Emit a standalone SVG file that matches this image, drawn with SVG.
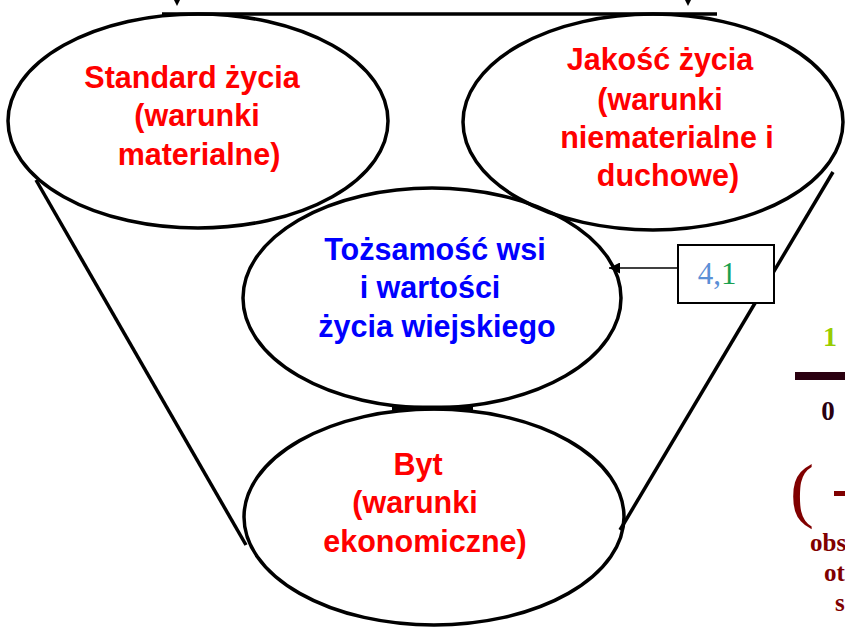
<svg xmlns="http://www.w3.org/2000/svg" width="845" height="629" viewBox="0 0 845 629">
<defs>
<style>
.ell{fill:none;stroke:#000;stroke-width:3.5}
.red{fill:#ff0000;font-family:"Liberation Sans",Arial,sans-serif;font-size:30.5px;font-weight:bold;text-anchor:middle}
.blue{fill:#0000ff;font-family:"Liberation Sans",Arial,sans-serif;font-size:30.5px;font-weight:bold;text-anchor:middle}
.ser{font-family:"Liberation Serif","Times New Roman",serif;font-weight:bold}
.dk{fill:#800000}
</style>
<marker id="ah" viewBox="0 0 10 10" refX="10" refY="5" markerWidth="13" markerHeight="11" markerUnits="userSpaceOnUse" orient="auto">
<path d="M0,0 L10,5 L0,10 z" fill="#000"/>
</marker>
</defs>
<rect width="845" height="629" fill="#fff"/>
<g id="connectors" stroke="#000" fill="none">
<line x1="162" y1="14" x2="717" y2="14" stroke-width="3.5"/>
<path d="M174,0 L180,0 L177,6 z" fill="#000" stroke="none"/>
<path d="M685,0 L691,0 L688,6 z" fill="#000" stroke="none"/>
<line x1="36" y1="180" x2="246" y2="545" stroke-width="3.5"/>
<line x1="833" y1="172" x2="620" y2="530" stroke-width="3.5"/>
<line x1="392" y1="408" x2="473" y2="408" stroke-width="5"/>
<line x1="678" y1="268" x2="609" y2="268" stroke-width="1.5" marker-end="url(#ah)"/>
</g>
<g id="standard">
<ellipse class="ell" cx="198" cy="121" rx="190" ry="107"/>
<text class="red" x="192" y="88">Standard życia</text>
<text class="red" x="197" y="126">(warunki</text>
<text class="red" x="199" y="165">materialne)</text>
</g>
<g id="jakosc">
<ellipse class="ell" cx="653" cy="122" rx="190" ry="108"/>
<text class="red" x="660" y="70">Jakość życia</text>
<text class="red" x="660" y="110">(warunki</text>
<text class="red" x="667" y="148">niematerialne i</text>
<text class="red" x="668" y="186">duchowe)</text>
</g>
<g id="tozsamosc">
<ellipse class="ell" cx="432" cy="298" rx="189" ry="110"/>
<text class="blue" x="435" y="260">Tożsamość wsi</text>
<text class="blue" x="430" y="298">i wartości</text>
<text class="blue" x="437" y="337">życia wiejskiego</text>
</g>
<g id="byt">
<ellipse class="ell" cx="434" cy="517" rx="190" ry="108"/>
<text class="red" x="418" y="475">Byt</text>
<text class="red" x="415" y="513">(warunki</text>
<text class="red" x="425" y="552">ekonomiczne)</text>
</g>
<g id="box41">
<rect x="678" y="245" width="96" height="58" fill="#fff" stroke="#000" stroke-width="2"/>
<text x="717" y="284" font-family="Liberation Serif,serif" font-size="31" text-anchor="middle"><tspan fill="#5b8fd6">4,</tspan><tspan fill="#1aa050">1</tspan></text>
</g>
<g id="fraction">
<text class="ser" x="830" y="346" font-size="28" fill="#99cc00" text-anchor="middle">1</text>
<rect x="795" y="372" width="50" height="8" fill="#2a0010"/>
<text class="ser" x="828" y="420" font-size="27" fill="#2a0010" text-anchor="middle">0</text>
<text x="790" y="514" font-family="Liberation Serif,serif" font-size="72" fill="#800000">(</text>
<rect x="834" y="491" width="11" height="5" fill="#800000"/>
<text class="ser dk" x="810" y="551" font-size="25">obs</text>
<text class="ser dk" x="824" y="581" font-size="25">ot</text>
<text class="ser dk" x="835" y="611" font-size="25">s</text>
</g>
</svg>
